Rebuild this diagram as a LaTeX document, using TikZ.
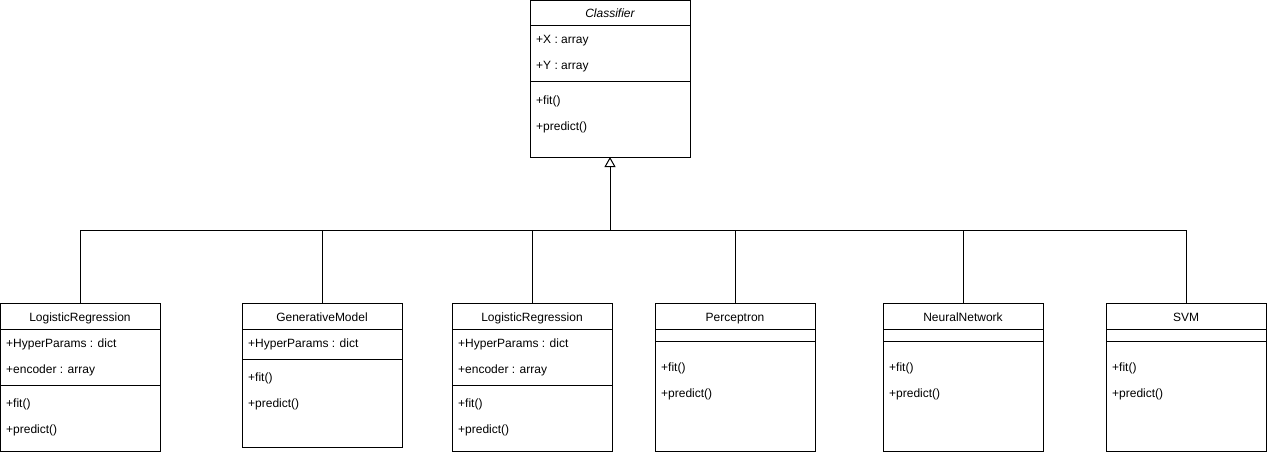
\documentclass[tikz,border=0pt]{standalone}
\usepackage{fontspec}
\setmainfont{Liberation Sans}
\usetikzlibrary{arrows.meta, calc}

\begin{document}
\begin{tikzpicture}[x=1pt, y=-1pt,
	box/.style={rectangle, draw=black, line width=1pt, anchor=north west,
		minimum width=160pt, inner sep=0pt, outer sep=0pt},
	title/.style={font=\fontsize{12}{14}\selectfont, inner sep=0pt,
		text height=11pt, text depth=1pt},
	member/.style={font=\fontsize{12}{14}\selectfont, anchor=west, inner sep=0pt,
		text height=11pt, text depth=1pt},
	line/.style={draw=black, line width=1pt}]

	\useasboundingbox (0,0) rectangle (1267,452);

	% base class
	\node [box, minimum height=156.5pt] (clf) at (530,0.5) {};
	\node [title, font=\fontsize{12}{14}\selectfont\itshape] (clfname) at (610,13) {Classifier};
	\draw [line] (530,26) -- (690,26);
	\node [member] at (536,39) {+X : array};
	\node [member] at (536,65) {+Y : array};
	\draw [line] (530,82) -- (690,82);
	\node [member] at (536,99) {+fit()};
	\node [member] at (536,125) {+predict()};

	% LogisticRegression (left)
	\node [box, minimum height=148pt] (lra) at (0.5,303) {};
	\node [title] at (80,316) {LogisticRegression};
	\draw [line] (0.5,329) -- (160.5,329);
	\node [member] at (6,342) {+HyperParams : dict};
	\node [member] at (6,368) {+encoder : array};
	\draw [line] (0.5,385) -- (160.5,385);
	\node [member] at (6,402) {+fit()};
	\node [member] at (6,428) {+predict()};

	% GenerativeModel
	\node [box, minimum height=144pt] (gen) at (242,303) {};
	\node [title] at (322,316) {GenerativeModel};
	\draw [line] (242,329) -- (402,329);
	\node [member] at (248,342) {+HyperParams : dict};
	\draw [line] (242,359) -- (402,359);
	\node [member] at (248,376) {+fit()};
	\node [member] at (248,402) {+predict()};

	% LogisticRegression (middle)
	\node [box, minimum height=148pt] (lrb) at (452,303) {};
	\node [title] at (532,316) {LogisticRegression};
	\draw [line] (452,329) -- (612,329);
	\node [member] at (458,342) {+HyperParams : dict};
	\node [member] at (458,368) {+encoder : array};
	\draw [line] (452,385) -- (612,385);
	\node [member] at (458,402) {+fit()};
	\node [member] at (458,428) {+predict()};

	% Perceptron
	\node [box, minimum height=148pt] (per) at (655,303) {};
	\node [title] at (735,316) {Perceptron};
	\draw [line] (655,329) -- (815,329);
	\draw [line] (655,341) -- (815,341);
	\node [member] at (661,366) {+fit()};
	\node [member] at (661,392) {+predict()};

	% NeuralNetwork
	\node [box, minimum height=148pt] (nn) at (883,303) {};
	\node [title] at (963,316) {NeuralNetwork};
	\draw [line] (883,329) -- (1043,329);
	\draw [line] (883,341) -- (1043,341);
	\node [member] at (889,366) {+fit()};
	\node [member] at (889,392) {+predict()};

	% SVM
	\node [box, minimum height=148pt] (svm) at (1106,303) {};
	\node [title] at (1186,316) {SVM};
	\draw [line] (1106,329) -- (1266,329);
	\draw [line] (1106,341) -- (1266,341);
	\node [member] at (1112,366) {+fit()};
	\node [member] at (1112,392) {+predict()};

	% inheritance
	\coordinate (bus) at (610,230);
	\foreach \c in {lra, gen, lrb, per, nn, svm}
		\draw [line] (\c.north) |- (bus);
	\draw [line, -{Triangle[open, length=10pt, width=11pt]}] (bus) -- (clf.south);

\end{tikzpicture}
\end{document}
